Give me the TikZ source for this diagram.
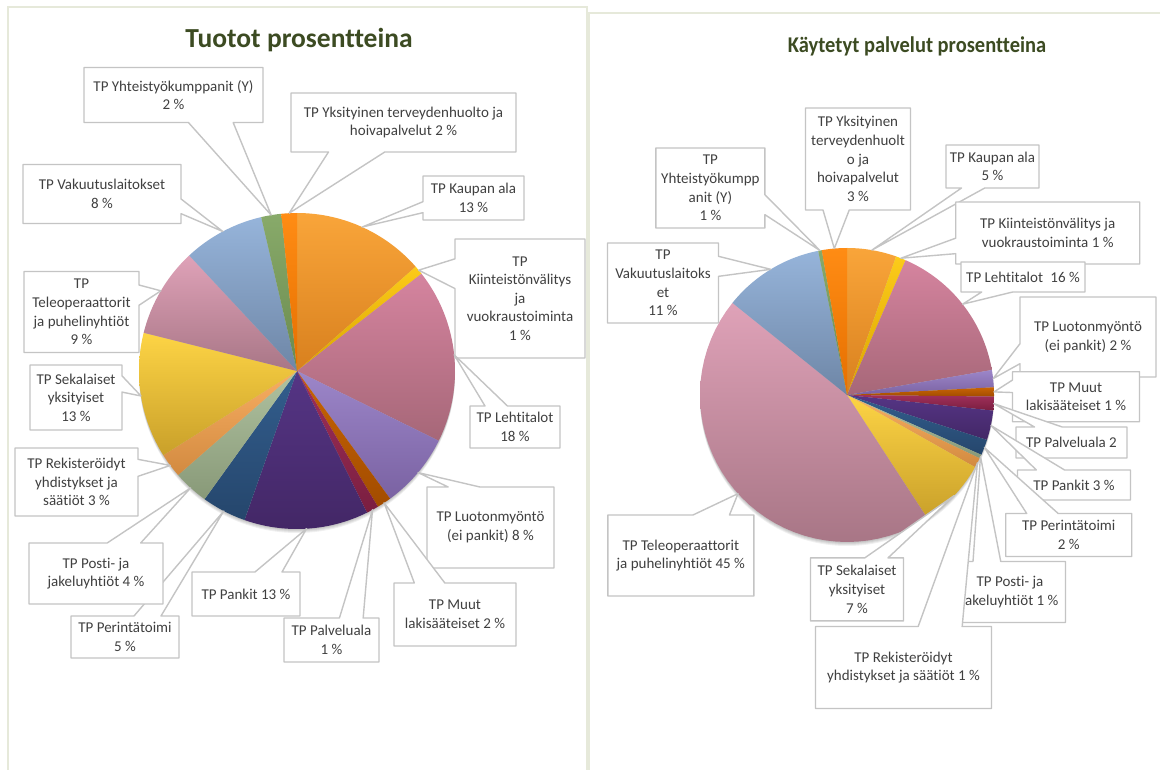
\documentclass[tikz,border=0pt]{standalone}
\usepackage{fontspec}
\setmainfont{Carlito}[Ligatures={NoCommon}]
\usetikzlibrary{calc}
\definecolor{kaupT}{HTML}{F9A53A}\definecolor{kaupB}{HTML}{D8801E}
\definecolor{kiinT}{HTML}{FCCB1A}\definecolor{kiinB}{HTML}{DAA400}
\definecolor{lehtT}{HTML}{D5849F}\definecolor{lehtB}{HTML}{A66778}
\definecolor{luotT}{HTML}{9C86C9}\definecolor{luotB}{HTML}{7A62A2}
\definecolor{muutT}{HTML}{C86404}\definecolor{muutB}{HTML}{A24C00}
\definecolor{palvT}{HTML}{A0305A}\definecolor{palvB}{HTML}{7A1E40}
\definecolor{pankT}{HTML}{553585}\definecolor{pankB}{HTML}{432766}
\definecolor{periT}{HTML}{335E8E}\definecolor{periB}{HTML}{25466C}
\definecolor{postT}{HTML}{B0C2A0}\definecolor{postB}{HTML}{889978}
\definecolor{rekiT}{HTML}{F8AE62}\definecolor{rekiB}{HTML}{D28A40}
\definecolor{sekaT}{HTML}{FDD445}\definecolor{sekaB}{HTML}{C9A02A}
\definecolor{teleT}{HTML}{DFA2B8}\definecolor{teleB}{HTML}{A87686}
\definecolor{vakuT}{HTML}{96B4DA}\definecolor{vakuB}{HTML}{6E86A6}
\definecolor{yhteT}{HTML}{88AA6A}\definecolor{yhteB}{HTML}{6A8A4E}
\definecolor{yksiT}{HTML}{FF8C14}\definecolor{yksiB}{HTML}{E56F00}
\definecolor{boxgray}{HTML}{C4C4C4}
\definecolor{lbltxt}{HTML}{404040}
\definecolor{ttlgreen}{HTML}{3C4B22}
\definecolor{panelc}{HTML}{E6E9DA}
\tikzset{
  cbox/.style={draw=boxgray, line width=1.4pt, fill=white, line join=round},
  lbl/.style={text=lbltxt, font=\fontsize{15}{18.6}\selectfont, align=center, inner sep=0pt},
  ttl/.style={text=ttlgreen, inner sep=0pt},
  panel/.style={draw=panelc, line width=1.1pt},
}
\newcommand\slice[6]{\shade[top color=#6T, bottom color=#6B] (#1,#2) -- plot[domain=#4:#5, samples=40, variable=\t] ({#1+#3*cos(\t)},{#2-#3*sin(\t)}) -- cycle;}
\newcommand\lab[9]{%
  \pgfmathsetmacro\xa{#2-#4/2}\pgfmathsetmacro\xb{#2+#4/2}%
  \pgfmathsetmacro\ya{#3-#5/2}\pgfmathsetmacro\yb{#3+#5/2}%
  \if#7+\def\fa{0.58333}\def\fb{0.83333}\else\def\fa{0.16667}\def\fb{0.41667}\fi
  \pgfmathsetmacro\pxa{\xa+\fa*#4}\pgfmathsetmacro\pxb{\xa+\fb*#4}%
  \pgfmathsetmacro\pya{\ya+\fa*#5}\pgfmathsetmacro\pyb{\ya+\fb*#5}%
  \if#6s\draw[cbox] (\xa,\ya) -- (\xb,\ya) -- (\xb,\yb) -- (\pxb,\yb) -- (#8) -- (\pxa,\yb) -- (\xa,\yb) -- cycle;\fi
  \if#6n\draw[cbox] (\xa,\yb) -- (\xb,\yb) -- (\xb,\ya) -- (\pxb,\ya) -- (#8) -- (\pxa,\ya) -- (\xa,\ya) -- cycle;\fi
  \if#6e\draw[cbox] (\xa,\ya) -- (\xb,\ya) -- (\xb,\pya) -- (#8) -- (\xb,\pyb) -- (\xb,\yb) -- (\xa,\yb) -- cycle;\fi
  \if#6w\draw[cbox] (\xb,\ya) -- (\xa,\ya) -- (\xa,\pya) -- (#8) -- (\xa,\pyb) -- (\xa,\yb) -- (\xb,\yb) -- cycle;\fi
  \node[lbl] (#1) at (#2,#3) {#9};
}
\begin{document}
\begin{tikzpicture}[x=1pt,y=-1pt]
\useasboundingbox (0,0) rectangle (1160,770);
\fill[white] (0,0) rectangle (1160,770);
% panels
\draw[panel] (8,770) -- (8,7) -- (587,7) -- (587,770);
\draw[panel] (589,770) -- (589,13) -- (1160,13);
% titles
\node[ttl, font=\fontsize{27.5}{32}\selectfont\bfseries] (titleL) at (299,40) {Tuotot prosentteina};
\node[ttl, font=\fontsize{22.5}{27}\selectfont\bfseries, xscale=0.91, transform shape] (titleR) at (917,46) {Käytetyt palvelut prosentteina};
% shadows
\foreach \d in {1,2,3,4}{\fill[black,opacity=0.06] (297,371+\d) circle[radius=158];}
\foreach \d in {1,2,3,4}{\fill[black,opacity=0.06] (847,395+\d) circle[radius=147];}
% left pie (297,371) r 158
\slice{297}{371}{158}{41.3}{90}{kaup}
\slice{297}{371}{158}{38}{41.3}{kiin}
\slice{297}{371}{158}{-26.2}{38}{leht}
\slice{297}{371}{158}{-53.9}{-26.2}{luot}
\slice{297}{371}{158}{-59.2}{-53.9}{muut}
\slice{297}{371}{158}{-63.7}{-59.2}{palv}
\slice{297}{371}{158}{-109.4}{-63.7}{pank}
\slice{297}{371}{158}{-125.8}{-109.4}{peri}
\slice{297}{371}{158}{-138.8}{-125.8}{post}
\slice{297}{371}{158}{-147.8}{-138.8}{reki}
\slice{297}{371}{158}{-194}{-147.8}{seka}
\slice{297}{371}{158}{-227}{-194}{tele}
\slice{297}{371}{158}{-256.9}{-227}{vaku}
\slice{297}{371}{158}{-264.3}{-256.9}{yhte}
\slice{297}{371}{158}{-270}{-264.3}{yksi}
% right pie (847,395) r 147
\slice{847}{395}{147}{70.5}{90}{kaup}
\slice{847}{395}{147}{66.5}{70.5}{kiin}
\slice{847}{395}{147}{9.8}{66.5}{leht}
\slice{847}{395}{147}{3}{9.8}{luot}
\slice{847}{395}{147}{-0.6}{3}{muut}
\slice{847}{395}{147}{-6.1}{-0.6}{palv}
\slice{847}{395}{147}{-17.8}{-6.1}{pank}
\slice{847}{395}{147}{-24}{-17.8}{peri}
\slice{847}{395}{147}{-25.5}{-24}{post}
\slice{847}{395}{147}{-29.4}{-25.5}{reki}
\slice{847}{395}{147}{-56.9}{-29.4}{seka}
\slice{847}{395}{147}{-218.8}{-56.9}{tele}
\slice{847}{395}{147}{-258.7}{-218.8}{vaku}
\slice{847}{395}{147}{-260.1}{-258.7}{yhte}
\slice{847}{395}{147}{-270}{-260.1}{yksi}
% tips left
\coordinate (tL4) at ({297+158*cos(65.65)},{371-158*sin(65.65)});
\coordinate (tL5) at ({297+158*cos(39.65)},{371-158*sin(39.65)});
\coordinate (tL8) at ({297+158*cos(5.9)},{371-158*sin(5.9)});
\coordinate (tL10) at ({297+158*cos(-40)},{371-158*sin(-40)});
\coordinate (tL15) at ({297+158*cos(-56.55)},{371-158*sin(-56.55)});
\coordinate (tL14) at ({297+158*cos(-61.45)},{371-158*sin(-61.45)});
\coordinate (tL13) at ({297+158*cos(-86.55)},{371-158*sin(-86.55)});
\coordinate (tL12) at ({297+158*cos(-117.6)},{371-158*sin(-117.6)});
\coordinate (tL11) at ({297+158*cos(-132.3)},{371-158*sin(-132.3)});
\coordinate (tL9) at ({297+158*cos(-143.3)},{371-158*sin(-143.3)});
\coordinate (tL7) at ({297+158*cos(-170.9)},{371-158*sin(-170.9)});
\coordinate (tL6) at ({297+158*cos(-210.5)},{371-158*sin(-210.5)});
\coordinate (tL3) at ({297+158*cos(-242)},{371-158*sin(-242)});
\coordinate (tL1) at ({297+158*cos(-260.6)},{371-158*sin(-260.6)});
\coordinate (tL2) at ({297+158*cos(-267.15)},{371-158*sin(-267.15)});
% tips right
\coordinate (tR3) at ({847+147*cos(80.25)},{395-147*sin(80.25)});
\coordinate (tR4) at ({847+147*cos(68.5)},{395-147*sin(68.5)});
\coordinate (tR6) at ({847+147*cos(38.15)},{395-147*sin(38.15)});
\coordinate (tR7) at ({847+147*cos(6.4)},{395-147*sin(6.4)});
\coordinate (tR8) at ({847+147*cos(1.2)},{395-147*sin(1.2)});
\coordinate (tR9) at ({847+147*cos(-3.35)},{395-147*sin(-3.35)});
\coordinate (tR10) at ({847+147*cos(-11.95)},{395-147*sin(-11.95)});
\coordinate (tR11) at ({847+147*cos(-20.9)},{395-147*sin(-20.9)});
\coordinate (tR12) at ({847+147*cos(-24.75)},{395-147*sin(-24.75)});
\coordinate (tR13) at ({847+147*cos(-27.45)},{395-147*sin(-27.45)});
\coordinate (tR14) at ({847+147*cos(-43.15)},{395-147*sin(-43.15)});
\coordinate (tR15) at ({847+147*cos(-137.85)},{395-147*sin(-137.85)});
\coordinate (tR5) at ({847+147*cos(121.25)},{395-147*sin(121.25)});
\coordinate (tR1) at ({847+147*cos(100.6)},{395-147*sin(100.6)});
\coordinate (tR2) at ({847+147*cos(94.95)},{395-147*sin(94.95)});
% left labels
\lab{L4}{473.5}{198}{101}{44}{w}{+}{tL4}{TP Kaupan ala\\13~\%}
\lab{L5}{520}{298.5}{130}{119}{w}{-}{tL5}{TP\\Kiinteistönvälitys\\ja\\vuokraustoiminta\\1~\%}
\lab{L8}{515}{427}{90}{42}{n}{-}{tL8}{TP Lehtitalot\\18~\%}
\lab{L10}{490.5}{527.5}{127}{81}{n}{-}{tL10}{TP Luotonmyöntö\\(ei pankit) 8~\%}
\lab{L15}{455}{614.5}{122}{63}{n}{-}{tL15}{TP Muut\\lakisääteiset 2~\%}
\lab{L14}{331.5}{640}{95}{44}{n}{+}{tL14}{TP Palveluala\\1~\%}
\lab{L13}{246}{594}{108}{44}{n}{+}{tL13}{TP Pankit 13~\%}
\lab{L12}{125}{637}{108}{42}{n}{+}{tL12}{TP Perintätoimi\\5~\%}
\lab{L11}{96}{573.5}{134}{61}{n}{+}{tL11}{TP Posti- ja\\jakeluyhtiöt 4~\%}
\lab{L9}{76.5}{482}{123}{68}{e}{-}{tL9}{TP Rekisteröidyt\\yhdistykset ja\\säätiöt 3~\%}
\lab{L7}{76}{397.5}{92}{65}{e}{-}{tL7}{TP Sekalaiset\\yksityiset\\13~\%}
\lab{L6}{81.5}{312}{115}{81}{e}{-}{tL6}{TP\\Teleoperaattorit\\ja puhelinyhtiöt\\9~\%}
\lab{L3}{102}{194}{158}{59}{e}{+}{tL3}{TP Vakuutuslaitokset\\8~\%}
\lab{L1}{173.5}{95}{179}{55}{s}{+}{tL1}{TP Yhteistyökumppanit (Y)\\2~\%}
\lab{L2}{403.5}{122.5}{225}{59}{s}{-}{tL2}{TP Yksityinen terveydenhuolto ja\\hoivapalvelut 2~\%}
% right labels
\lab{R3}{992.5}{166.5}{93}{43}{s}{-}{tR3}{TP Kaupan ala\\5~\%}
\lab{R4}{1047.7}{233}{184}{62}{w}{+}{tR4}{TP Kiinteistönvälitys ja\\vuokraustoiminta 1~\%}
\lab{R6}{1023}{277}{124}{30}{s}{-}{tR6}{TP Lehtitalot\hspace{4pt} 16~\%}
\lab{R7}{1088}{337}{136}{80}{w}{+}{tR7}{TP Luotonmyöntö\\(ei pankit) 2~\%}
\lab{R8}{1076}{396.7}{127}{50}{w}{-}{tR8}{TP Muut\\lakisääteiset 1~\%}
\lab{R9}{1071.5}{442.5}{111}{31}{n}{-}{tR9}{TP Palveluala 2}
\lab{R10}{1074}{485}{113}{30}{n}{-}{tR10}{TP Pankit 3~\%}
\lab{R11}{1068.7}{535}{126}{43}{n}{-}{tR11}{TP Perintätoimi\\2~\%}
\lab{R12}{1010}{592}{111}{61}{n}{-}{tR12}{TP Posti- ja\\jakeluyhtiöt 1~\%}
\lab{R13}{903.5}{667.5}{176}{82}{n}{+}{tR13}{TP Rekisteröidyt\\yhdistykset ja säätiöt 1~\%}
\lab{R14}{857}{589.4}{93}{63}{n}{+}{tR14}{TP Sekalaiset\\yksityiset\\7~\%}
\lab{R15}{680.8}{555.5}{146}{81}{n}{+}{tR15}{TP Teleoperaattorit\\ja puhelinyhtiöt 45~\%}
\lab{R5}{663}{283}{111}{80}{e}{-}{tR5}{TP\\Vakuutuslaitoks\\et\\11~\%}
\lab{R1}{710.4}{188}{109}{80}{e}{+}{tR1}{TP\\Yhteistyökumpp\\anit (Y)\\1~\%}
\lab{R2}{858}{159}{105}{102}{s}{-}{tR2}{TP Yksityinen\\terveydenhuolt\\o ja\\hoivapalvelut\\3~\%}
\end{tikzpicture}
\end{document}
